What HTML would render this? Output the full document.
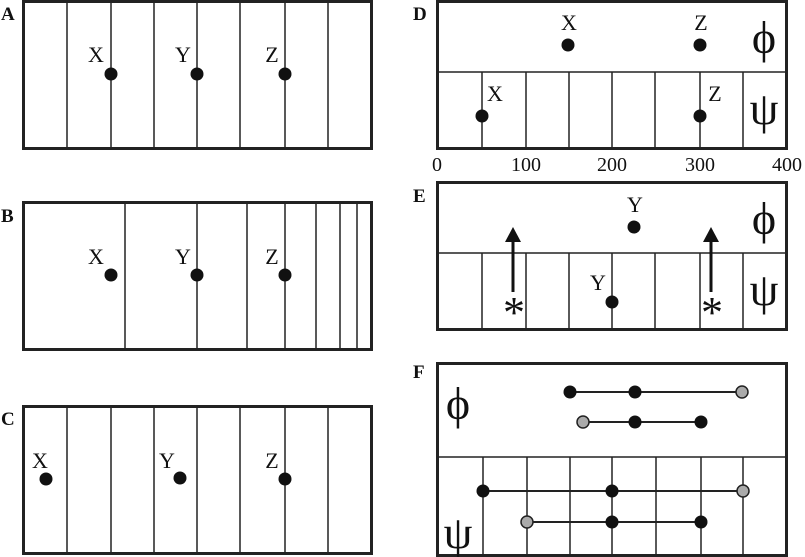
<!DOCTYPE html>
<html><head><meta charset="utf-8"><style>html,body{margin:0;padding:0;background:#fff}svg{display:block}</style></head><body>
<svg width="805" height="557" viewBox="0 0 805 557" xmlns="http://www.w3.org/2000/svg" font-family="Liberation Serif, serif" fill="#111">
<g font-weight="bold" font-size="19">
<text x="1" y="20">A</text><text x="1" y="222">B</text><text x="1" y="425">C</text>
<text x="413" y="20">D</text><text x="413" y="202">E</text><text x="413" y="378">F</text>
</g>
<g stroke="#222" stroke-width="1.5">
<line x1="67" y1="2" x2="67" y2="148"/><line x1="111" y1="2" x2="111" y2="148"/><line x1="154" y1="2" x2="154" y2="148"/><line x1="197" y1="2" x2="197" y2="148"/><line x1="240" y1="2" x2="240" y2="148"/><line x1="285" y1="2" x2="285" y2="148"/><line x1="328" y1="2" x2="328" y2="148"/>
<line x1="125" y1="202" x2="125" y2="349"/><line x1="197" y1="202" x2="197" y2="349"/><line x1="247" y1="202" x2="247" y2="349"/><line x1="285" y1="202" x2="285" y2="349"/><line x1="316" y1="202" x2="316" y2="349"/><line x1="340" y1="202" x2="340" y2="349"/><line x1="357" y1="202" x2="357" y2="349"/>
<line x1="67" y1="406" x2="67" y2="553"/><line x1="111" y1="406" x2="111" y2="553"/><line x1="154" y1="406" x2="154" y2="553"/><line x1="197" y1="406" x2="197" y2="553"/><line x1="240" y1="406" x2="240" y2="553"/><line x1="285" y1="406" x2="285" y2="553"/><line x1="328" y1="406" x2="328" y2="553"/>
<line x1="437" y1="72" x2="787" y2="72"/>
<line x1="482" y1="72" x2="482" y2="148"/><line x1="526" y1="72" x2="526" y2="148"/><line x1="569" y1="72" x2="569" y2="148"/><line x1="612" y1="72" x2="612" y2="148"/><line x1="655" y1="72" x2="655" y2="148"/><line x1="700" y1="72" x2="700" y2="148"/><line x1="743" y1="72" x2="743" y2="148"/>
<line x1="437" y1="253" x2="787" y2="253"/>
<line x1="482" y1="253" x2="482" y2="329"/><line x1="526" y1="253" x2="526" y2="329"/><line x1="569" y1="253" x2="569" y2="329"/><line x1="612" y1="253" x2="612" y2="329"/><line x1="655" y1="253" x2="655" y2="329"/><line x1="700" y1="253" x2="700" y2="329"/><line x1="743" y1="253" x2="743" y2="329"/>
<line x1="437" y1="457" x2="787" y2="457"/>
<line x1="483" y1="457" x2="483" y2="555"/><line x1="527" y1="457" x2="527" y2="555"/><line x1="570" y1="457" x2="570" y2="555"/><line x1="612" y1="457" x2="612" y2="555"/><line x1="656" y1="457" x2="656" y2="555"/><line x1="701" y1="457" x2="701" y2="555"/><line x1="743" y1="457" x2="743" y2="555"/>
<line x1="570" y1="392" x2="742" y2="392" stroke-width="2"/><line x1="583" y1="422" x2="701" y2="422" stroke-width="2"/>
<line x1="483" y1="491" x2="743" y2="491" stroke-width="2"/><line x1="527" y1="522" x2="701" y2="522" stroke-width="2"/>
</g>
<g fill="none" stroke="#222" stroke-width="3">
<rect x="23.5" y="1.5" width="348" height="147"/>
<rect x="23.5" y="202.5" width="348" height="147"/>
<rect x="23.5" y="406.5" width="348" height="147"/>
<rect x="437.5" y="1.5" width="349" height="147"/>
<rect x="437.5" y="182.5" width="349" height="147"/>
<rect x="437.5" y="363.5" width="349" height="192"/>
</g>
<g fill="#111">
<circle cx="111" cy="74" r="6.5"/><circle cx="197" cy="74" r="6.5"/><circle cx="285" cy="74" r="6.5"/>
<circle cx="111" cy="275" r="6.5"/><circle cx="197" cy="275" r="6.5"/><circle cx="285" cy="275" r="6.5"/>
<circle cx="46" cy="479" r="6.5"/><circle cx="180" cy="478" r="6.5"/><circle cx="285" cy="479" r="6.5"/>
<circle cx="568" cy="45" r="6.5"/><circle cx="700" cy="45" r="6.5"/><circle cx="482" cy="116" r="6.5"/><circle cx="700" cy="116" r="6.5"/>
<circle cx="634" cy="227" r="6.5"/><circle cx="612" cy="302" r="6.5"/>
<circle cx="570" cy="392" r="6.5"/><circle cx="635" cy="392" r="6.5"/><circle cx="635" cy="422" r="6.5"/><circle cx="701" cy="422" r="6.5"/>
<circle cx="483" cy="491" r="6.5"/><circle cx="612" cy="491" r="6.5"/><circle cx="612" cy="522" r="6.5"/><circle cx="701" cy="522" r="6.5"/>
</g>
<g fill="#aaa" stroke="#222" stroke-width="1.5">
<circle cx="742" cy="392" r="6"/><circle cx="583" cy="422" r="6"/><circle cx="743" cy="491" r="6"/><circle cx="527" cy="522" r="6"/>
</g>
<g stroke="#111" stroke-width="3"><line x1="513" y1="292" x2="513" y2="240"/><line x1="711" y1="292" x2="711" y2="240"/></g>
<polygon points="513,227 505,242 521,242"/><polygon points="711,227 703,242 719,242"/>
<g font-size="44" text-anchor="middle"><text x="514" y="327">*</text><text x="712" y="327">*</text></g>
<g font-size="22" text-anchor="middle">
<text x="96" y="62">X</text><text x="183" y="62">Y</text><text x="272" y="62">Z</text>
<text x="96" y="264">X</text><text x="183" y="264">Y</text><text x="272" y="264">Z</text>
<text x="40" y="468">X</text><text x="167" y="468">Y</text><text x="272" y="468">Z</text>
<text x="569" y="30">X</text><text x="701" y="30">Z</text><text x="495" y="101">X</text><text x="715" y="101">Z</text>
<text x="635" y="212">Y</text><text x="598" y="290">Y</text>
</g>
<g font-size="20" text-anchor="middle">
<text x="437" y="171">0</text><text x="526" y="171">100</text><text x="612" y="171">200</text><text x="700" y="171">300</text><text x="787" y="171">400</text>
</g>
<g font-size="46" text-anchor="middle">
<text x="764" y="53">ϕ</text><text x="764" y="124">ψ</text>
<text x="764" y="234">ϕ</text><text x="764" y="305">ψ</text>
<text x="458" y="419">ϕ</text><text x="458" y="548">ψ</text>
</g>
</svg>
</body></html>
